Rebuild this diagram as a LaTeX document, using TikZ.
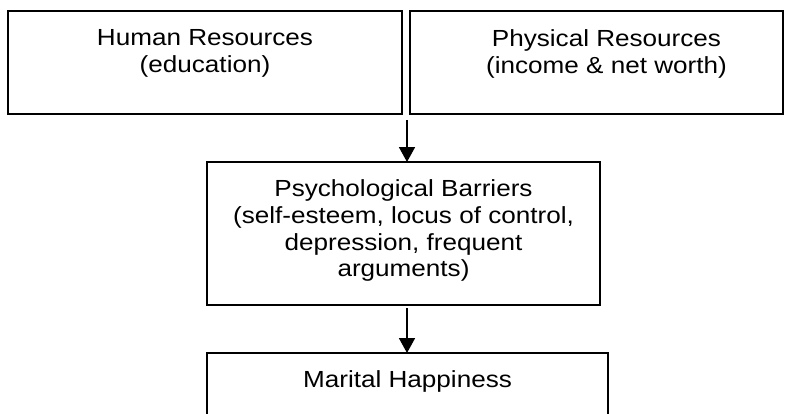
\documentclass[tikz,border=0pt]{standalone}
\usepackage{fontspec}
\setmainfont{Liberation Sans}[FakeStretch=1.12]
\usetikzlibrary{arrows.meta}

\begin{document}
\begin{tikzpicture}[x=1pt,y=-1pt,
  box/.style={draw,line width=1.8pt,inner sep=0pt,outer sep=0pt},
  txt/.style={anchor=north,inner sep=0pt,align=center,font=\fontsize{23.3}{26.7}\selectfont},
  flow/.style={line width=1.8pt,-{Triangle[width=16pt,length=15pt]}}]
  \clip (0,0) rectangle (792,413);
  \node[box,minimum width=394pt,minimum height=103pt] (hum) at (205,62.5) {};
  \node[box,minimum width=373pt,minimum height=103pt] (phy) at (596.5,62.5) {};
  \node[box,minimum width=393pt,minimum height=143pt] (psy) at (403.5,233.5) {};
  \node[box,minimum width=401pt,minimum height=107pt] (hap) at (407.5,406.5) {};
  \node[txt] (humtxt) at ([yshift=-18.3pt]hum.north) {Human Resources\\(education)};
  \node[txt] (phytxt) at ([xshift=10pt,yshift=-18.3pt]phy.north) {Physical Resources\\(income \& net worth)};
  \node[txt] (psytxt) at ([yshift=-17.7pt]psy.north) {Psychological Barriers\\(self-esteem, locus of control,\\depression, frequent\\arguments)};
  \node[txt] (haptxt) at ([yshift=-17pt]hap.north) {Marital Happiness};
  \coordinate (gap) at (407,120);
  \coordinate (low) at (407,308);
  \draw[flow] (gap) -- (gap |- psy.north);
  \draw[flow] (low) -- (low |- hap.north);
\end{tikzpicture}
\end{document}
